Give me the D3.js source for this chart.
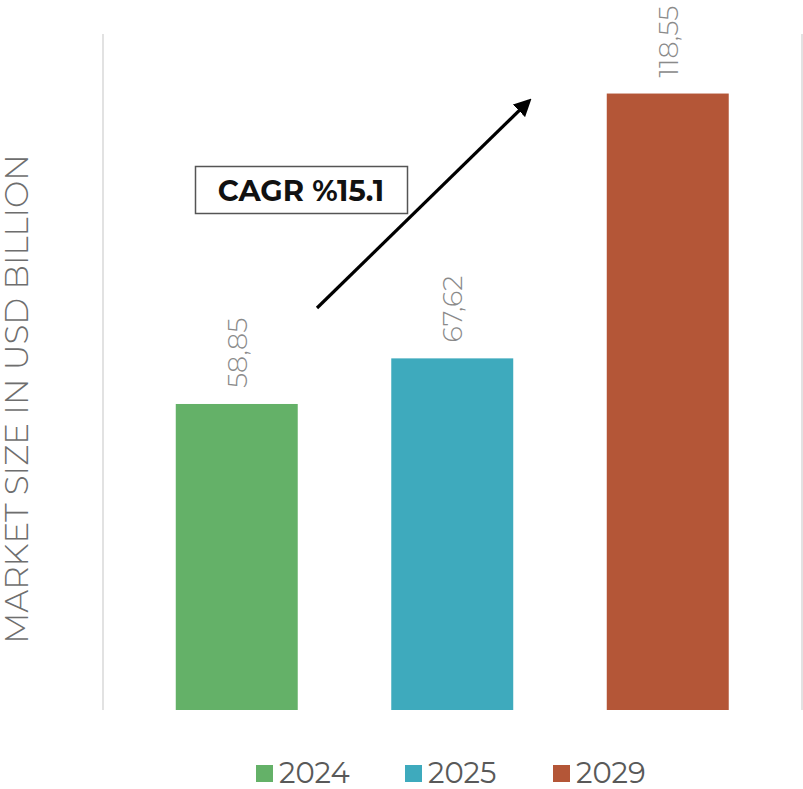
<!DOCTYPE html>
<html><head><meta charset="utf-8">
<script src="https://cdn.jsdelivr.net/npm/d3@7"></script>
<style>body{margin:0;background:#fff}svg{display:block}</style>
</head><body>
<svg id="c" width="803" height="789"></svg>
<script>
const categories = ["2024", "2025", "2029"];
const values = [58.85, 67.62, 118.55];
const valueLabels = ["58,85", "67,62", "118,55"];
const colors = ["#64b168", "#3eaabd", "#b45637"];
const yTitle = "MARKET SIZE IN USD BILLION";
const cagrText = "CAGR %15.1";

const svg = d3.select("#c");
const font = "Montserrat, 'Open Sans', 'Noto Sans', sans-serif";

const x = d3.scaleBand().domain(categories).range([129, 775.5]).paddingInner(0.434).paddingOuter(0.217);
const y = d3.scaleLinear().domain([0, 130]).range([710, 34]);

// vertical border lines
[103, 802].forEach(px => {
  svg.append("line").attr("x1", px).attr("x2", px).attr("y1", y(130)).attr("y2", y(0))
    .attr("stroke", "#d9d9d9").attr("stroke-width", 1.5);
});

// bars
svg.selectAll("rect.bar").data(values).join("rect").attr("class", "bar")
  .attr("x", (d, i) => x(categories[i])).attr("width", x.bandwidth())
  .attr("y", d => y(d)).attr("height", d => y(0) - y(d))
  .attr("fill", (d, i) => colors[i]);

// value labels
svg.selectAll("text.val").data(values).join("text").attr("class", "val")
  .attr("transform", (d, i) => `translate(${x(categories[i]) + x.bandwidth() / 2 + 10},${y(d) - 16}) rotate(-90)`)
  .attr("text-anchor", "start").attr("font-family", font).attr("font-size", 27)
  .attr("font-weight", 300).attr("fill", "#8a8a8a")
  .text((d, i) => valueLabels[i]);

// y title
svg.append("text").attr("transform", "translate(28,399) rotate(-90)")
  .attr("text-anchor", "middle").attr("font-family", font).attr("font-size", 32.5)
  .attr("font-weight", 300).attr("fill", "#6e6e6e").text(yTitle);

// arrow
const defs = svg.append("defs");
defs.append("marker").attr("id", "ah").attr("viewBox", "0 0 10 10").attr("refX", 8).attr("refY", 5)
  .attr("markerWidth", 5.5).attr("markerHeight", 5.5).attr("orient", "auto")
  .append("path").attr("d", "M0,0 L10,5 L0,10 Z").attr("fill", "#000");
svg.append("line").attr("x1", 317).attr("y1", 308).attr("x2", 529).attr("y2", 101)
  .attr("stroke", "#000").attr("stroke-width", 3.2).attr("marker-end", "url(#ah)");

// CAGR box
svg.append("rect").attr("x", 195.5).attr("y", 166.5).attr("width", 212).attr("height", 47)
  .attr("fill", "#fff").attr("stroke", "#555").attr("stroke-width", 1.5);
svg.append("text").attr("x", 301).attr("y", 201).attr("text-anchor", "middle")
  .attr("font-family", font).attr("font-size", 29).attr("font-weight", 700).attr("fill", "#111")
  .text(cagrText);

// legend
const legX = [256, 405, 553];
const leg = svg.selectAll("g.leg").data(categories).join("g").attr("class", "leg")
  .attr("transform", (d, i) => `translate(${legX[i]},765)`);
leg.append("rect").attr("width", 17).attr("height", 17).attr("fill", (d, i) => colors[i]);
leg.append("text").attr("x", 23).attr("y", 18).attr("font-family", font).attr("font-size", 29)
  .attr("fill", "#595959").text(d => d);
</script>
</body></html>
